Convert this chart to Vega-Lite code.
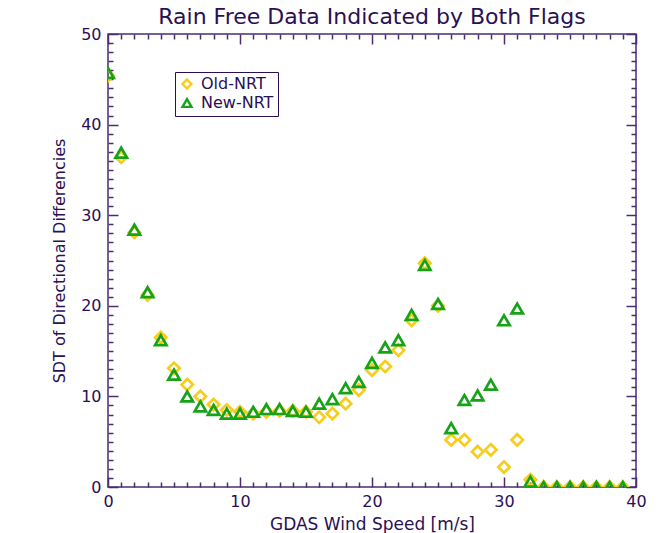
{
  "$schema": "https://vega.github.io/schema/vega-lite/v6.json",
  "width": 528,
  "height": 453,
  "autosize": "none",
  "padding": {"left": 108, "top": 34, "right": 23, "bottom": 46},
  "background": "white",
  "config": {
    "view": {"stroke": "#4b2c70", "strokeWidth": 1.5},
    "font": "DejaVu Sans"
  },
  "title": {
    "text": "Rain Free Data Indicated by Both Flags",
    "fontSize": 22,
    "fontWeight": "normal",
    "color": "#2a0f55",
    "anchor": "middle",
    "offset": -3
  },
  "data": {
    "values": [
      {"speed": 0, "sdt": 45.4, "series": "Old-NRT"},
      {"speed": 1, "sdt": 36.4, "series": "Old-NRT"},
      {"speed": 2, "sdt": 28.1, "series": "Old-NRT"},
      {"speed": 3, "sdt": 21.2, "series": "Old-NRT"},
      {"speed": 4, "sdt": 16.5, "series": "Old-NRT"},
      {"speed": 5, "sdt": 13.1, "series": "Old-NRT"},
      {"speed": 6, "sdt": 11.3, "series": "Old-NRT"},
      {"speed": 7, "sdt": 10.0, "series": "Old-NRT"},
      {"speed": 8, "sdt": 9.1, "series": "Old-NRT"},
      {"speed": 9, "sdt": 8.5, "series": "Old-NRT"},
      {"speed": 10, "sdt": 8.3, "series": "Old-NRT"},
      {"speed": 11, "sdt": 8.1, "series": "Old-NRT"},
      {"speed": 12, "sdt": 8.3, "series": "Old-NRT"},
      {"speed": 13, "sdt": 8.4, "series": "Old-NRT"},
      {"speed": 14, "sdt": 8.4, "series": "Old-NRT"},
      {"speed": 15, "sdt": 8.3, "series": "Old-NRT"},
      {"speed": 16, "sdt": 7.7, "series": "Old-NRT"},
      {"speed": 17, "sdt": 8.1, "series": "Old-NRT"},
      {"speed": 18, "sdt": 9.2, "series": "Old-NRT"},
      {"speed": 19, "sdt": 10.7, "series": "Old-NRT"},
      {"speed": 20, "sdt": 12.9, "series": "Old-NRT"},
      {"speed": 21, "sdt": 13.3, "series": "Old-NRT"},
      {"speed": 22, "sdt": 15.1, "series": "Old-NRT"},
      {"speed": 23, "sdt": 18.4, "series": "Old-NRT"},
      {"speed": 24, "sdt": 24.7, "series": "Old-NRT"},
      {"speed": 25, "sdt": 20.0, "series": "Old-NRT"},
      {"speed": 26, "sdt": 5.2, "series": "Old-NRT"},
      {"speed": 27, "sdt": 5.2, "series": "Old-NRT"},
      {"speed": 28, "sdt": 3.9, "series": "Old-NRT"},
      {"speed": 29, "sdt": 4.1, "series": "Old-NRT"},
      {"speed": 30, "sdt": 2.2, "series": "Old-NRT"},
      {"speed": 31, "sdt": 5.2, "series": "Old-NRT"},
      {"speed": 32, "sdt": 0.8, "series": "Old-NRT"},
      {"speed": 33, "sdt": 0, "series": "Old-NRT"},
      {"speed": 34, "sdt": 0, "series": "Old-NRT"},
      {"speed": 35, "sdt": 0, "series": "Old-NRT"},
      {"speed": 36, "sdt": 0, "series": "Old-NRT"},
      {"speed": 37, "sdt": 0, "series": "Old-NRT"},
      {"speed": 38, "sdt": 0, "series": "Old-NRT"},
      {"speed": 39, "sdt": 0, "series": "Old-NRT"},
      {"speed": 0, "sdt": 45.7, "series": "New-NRT"},
      {"speed": 1, "sdt": 36.9, "series": "New-NRT"},
      {"speed": 2, "sdt": 28.4, "series": "New-NRT"},
      {"speed": 3, "sdt": 21.5, "series": "New-NRT"},
      {"speed": 4, "sdt": 16.2, "series": "New-NRT"},
      {"speed": 5, "sdt": 12.4, "series": "New-NRT"},
      {"speed": 6, "sdt": 10.0, "series": "New-NRT"},
      {"speed": 7, "sdt": 8.9, "series": "New-NRT"},
      {"speed": 8, "sdt": 8.5, "series": "New-NRT"},
      {"speed": 9, "sdt": 8.1, "series": "New-NRT"},
      {"speed": 10, "sdt": 8.1, "series": "New-NRT"},
      {"speed": 11, "sdt": 8.3, "series": "New-NRT"},
      {"speed": 12, "sdt": 8.6, "series": "New-NRT"},
      {"speed": 13, "sdt": 8.6, "series": "New-NRT"},
      {"speed": 14, "sdt": 8.4, "series": "New-NRT"},
      {"speed": 15, "sdt": 8.3, "series": "New-NRT"},
      {"speed": 16, "sdt": 9.2, "series": "New-NRT"},
      {"speed": 17, "sdt": 9.7, "series": "New-NRT"},
      {"speed": 18, "sdt": 10.9, "series": "New-NRT"},
      {"speed": 19, "sdt": 11.6, "series": "New-NRT"},
      {"speed": 20, "sdt": 13.7, "series": "New-NRT"},
      {"speed": 21, "sdt": 15.4, "series": "New-NRT"},
      {"speed": 22, "sdt": 16.2, "series": "New-NRT"},
      {"speed": 23, "sdt": 19.0, "series": "New-NRT"},
      {"speed": 24, "sdt": 24.5, "series": "New-NRT"},
      {"speed": 25, "sdt": 20.2, "series": "New-NRT"},
      {"speed": 26, "sdt": 6.5, "series": "New-NRT"},
      {"speed": 27, "sdt": 9.6, "series": "New-NRT"},
      {"speed": 28, "sdt": 10.1, "series": "New-NRT"},
      {"speed": 29, "sdt": 11.3, "series": "New-NRT"},
      {"speed": 30, "sdt": 18.4, "series": "New-NRT"},
      {"speed": 31, "sdt": 19.7, "series": "New-NRT"},
      {"speed": 32, "sdt": 0.6, "series": "New-NRT"},
      {"speed": 33, "sdt": 0, "series": "New-NRT"},
      {"speed": 34, "sdt": 0, "series": "New-NRT"},
      {"speed": 35, "sdt": 0, "series": "New-NRT"},
      {"speed": 36, "sdt": 0, "series": "New-NRT"},
      {"speed": 37, "sdt": 0, "series": "New-NRT"},
      {"speed": 38, "sdt": 0, "series": "New-NRT"},
      {"speed": 39, "sdt": 0, "series": "New-NRT"}
    ]
  },
  "layer": [
    {
      "mark": {"type": "point", "filled": false, "strokeWidth": 2.7, "clip": true, "opacity": 1},
      "encoding": {
        "x": {
          "field": "speed",
          "type": "quantitative",
          "scale": {"domain": [0, 40], "nice": false, "zero": false},
          "axis": {
            "orient": "bottom",
            "title": "GDAS Wind Speed [m/s]",
            "titleFontSize": 17,
            "titleFontWeight": "normal",
            "titleColor": "#2a0f55",
            "titlePadding": 2,
            "values": [0,1,2,3,4,5,6,7,8,9,10,11,12,13,14,15,16,17,18,19,20,21,22,23,24,25,26,27,28,29,30,31,32,33,34,35,36,37,38,39,40],
            "labelExpr": "datum.value % 10 === 0 ? datum.label : ''",
            "labelFontSize": 16,
            "labelColor": "#2a0f55",
            "labelFlush": false,
            "labelOverlap": false,
            "labelPadding": 16,
            "tickSize": {"condition": {"test": "datum.value % 10 === 0", "value": -10}, "value": -5},
            "tickColor": "#4b2c70",
            "tickWidth": 1.5,
            "domain": false,
            "grid": false
          }
        },
        "y": {
          "field": "sdt",
          "type": "quantitative",
          "scale": {"domain": [0, 50], "nice": false, "zero": false},
          "axis": {
            "orient": "left",
            "title": "SDT of Directional Differencies",
            "titleFontSize": 16,
            "titleFontWeight": "normal",
            "titleColor": "#2a0f55",
            "titlePadding": 13,
            "values": [0,1,2,3,4,5,6,7,8,9,10,11,12,13,14,15,16,17,18,19,20,21,22,23,24,25,26,27,28,29,30,31,32,33,34,35,36,37,38,39,40,41,42,43,44,45,46,47,48,49,50],
            "labelExpr": "datum.value % 10 === 0 ? datum.label : ''",
            "labelFontSize": 16,
            "labelColor": "#2a0f55",
            "labelFlush": false,
            "labelOverlap": false,
            "labelPadding": 17,
            "tickSize": {"condition": {"test": "datum.value % 10 === 0", "value": -10}, "value": -5},
            "tickColor": "#4b2c70",
            "tickWidth": 1.5,
            "domain": false,
            "grid": false
          }
        },
        "color": {
          "field": "series",
          "type": "nominal",
          "sort": ["Old-NRT", "New-NRT"],
          "scale": {"domain": ["Old-NRT", "New-NRT"], "range": ["#f7cd1d", "#17a317"]},
          "legend": {
            "title": null,
            "orient": "none",
            "legendX": 67,
            "legendY": 38,
            "strokeColor": "#2a0f55",
            "fillColor": "white",
            "padding": 4,
            "labelFontSize": 16,
            "labelColor": "#2a0f55",
            "labelOffset": 6,
            "symbolStrokeWidth": 2.4,
            "symbolSize": 80,
            "rowPadding": 0
          }
        },
        "shape": {
          "field": "series",
          "type": "nominal",
          "scale": {"domain": ["Old-NRT", "New-NRT"], "range": ["diamond", "triangle-up"]}
        },
        "size": {"value": 130}
      }
    },
    {
      "mark": {"type": "point", "opacity": 0},
      "encoding": {
        "x": {
          "field": "speed",
          "type": "quantitative",
          "axis": {
            "orient": "top",
            "title": null,
            "labels": false,
            "values": [0,1,2,3,4,5,6,7,8,9,10,11,12,13,14,15,16,17,18,19,20,21,22,23,24,25,26,27,28,29,30,31,32,33,34,35,36,37,38,39,40],
            "tickSize": {"condition": {"test": "datum.value % 10 === 0", "value": -10}, "value": -5},
            "tickColor": "#4b2c70",
            "tickWidth": 1.5,
            "domain": false,
            "grid": false
          }
        },
        "y": {
          "field": "sdt",
          "type": "quantitative",
          "axis": {
            "orient": "right",
            "title": null,
            "labels": false,
            "values": [0,1,2,3,4,5,6,7,8,9,10,11,12,13,14,15,16,17,18,19,20,21,22,23,24,25,26,27,28,29,30,31,32,33,34,35,36,37,38,39,40,41,42,43,44,45,46,47,48,49,50],
            "tickSize": {"condition": {"test": "datum.value % 10 === 0", "value": -10}, "value": -5},
            "tickColor": "#4b2c70",
            "tickWidth": 1.5,
            "domain": false,
            "grid": false
          }
        }
      }
    }
  ],
  "resolve": {"axis": {"x": "independent", "y": "independent"}}
}
